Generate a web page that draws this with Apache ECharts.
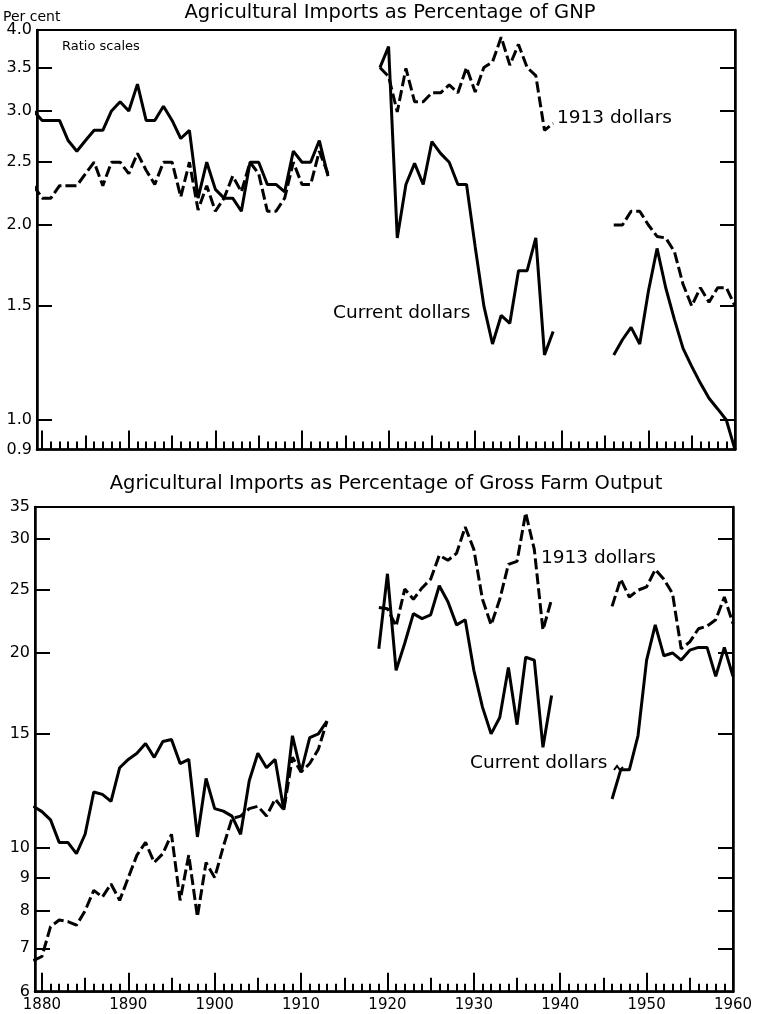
<!DOCTYPE html>
<html>
<head>
<meta charset="utf-8">
<script src="https://cdn.jsdelivr.net/npm/echarts@6/dist/echarts.min.js"></script>
<style>
  html, body { margin: 0; padding: 0; background: #fff; }
  #chart { width: 757px; height: 1014px; }
</style>
</head>
<body>
<div id="chart"></div>
<script>
// years 1879-1960; null = no data (1914-18, 1940-45)
const years = [];
for (let y = 1879; y <= 1960; y++) years.push(y);

// Agricultural imports as % of GNP
const gnpCurrent = [
  3.0, 2.9, 2.9, 2.9, 2.7, 2.6, 2.7, 2.8, 2.8, 3.0, 3.1, 3.0, 3.3, 2.9, 2.9, 3.05, 2.9, 2.72,
  2.8, 2.2, 2.5, 2.27, 2.2, 2.2, 2.1, 2.5, 2.5, 2.31, 2.31, 2.25, 2.6, 2.5, 2.5, 2.7, 2.38,
  null, null, null, null, null,
  3.5, 3.77, 1.91, 2.31, 2.49, 2.31, 2.69, 2.58, 2.5, 2.31, 2.31, 1.85, 1.5, 1.31, 1.45, 1.41,
  1.7, 1.7, 1.91, 1.26, 1.37,
  null, null, null, null, null, null,
  1.26, 1.33, 1.39, 1.31, 1.58, 1.84, 1.6, 1.43, 1.29, 1.21, 1.14, 1.08, 1.04, 1.0, 0.9
];
const gnp1913 = [
  2.3, 2.2, 2.2, 2.3, 2.3, 2.3, 2.4, 2.5, 2.3, 2.5, 2.5, 2.4, 2.58, 2.43, 2.31, 2.5, 2.5, 2.21,
  2.5, 2.11, 2.3, 2.1, 2.2, 2.38, 2.25, 2.5, 2.4, 2.1, 2.1, 2.2, 2.5, 2.31, 2.31, 2.6, 2.4,
  null, null, null, null, null,
  3.5, 3.39, 2.99, 3.49, 3.1, 3.1, 3.2, 3.2, 3.29, 3.2, 3.5, 3.21, 3.5, 3.57, 3.9, 3.53,
  3.8, 3.5, 3.4, 2.8, 2.87,
  null, null, null, null, null, null,
  2.0, 2.0, 2.1, 2.1, 2.0, 1.92, 1.91, 1.82, 1.62, 1.5, 1.6, 1.52, 1.6, 1.6, 1.5
];

// Agricultural imports as % of gross farm output
const farmCurrent = [
  11.6, 11.38, 11.05, 10.2, 10.2, 9.8, 10.5, 12.2, 12.1, 11.8, 13.3, 13.7, 14.0, 14.5, 13.8,
  14.6, 14.7, 13.5, 13.7, 10.4, 12.8, 11.5, 11.4, 11.2, 10.5, 12.7, 14.0, 13.3, 13.7, 11.45,
  14.9, 13.1, 14.8, 15.0, 15.7,
  null, null, null, null, null,
  20.3, 26.5, 18.8, 20.7, 23.0, 22.6, 22.9, 25.4, 24.0, 22.1, 22.5, 18.8, 16.5, 15.0, 15.9,
  19.0, 15.5, 19.7, 19.5, 14.3, 17.2,
  null, null, null, null, null, null,
  11.9, 13.2, 13.2, 14.9, 19.5, 22.1, 19.8, 20.0, 19.5, 20.2, 20.4, 20.4, 18.4, 20.4, 18.4
];
const farm1913 = [
  6.7, 6.8, 7.56, 7.74, 7.7, 7.6, 8.0, 8.6, 8.4, 8.8, 8.3, 9.0, 9.75, 10.2, 9.5, 9.8, 10.5,
  8.3, 9.75, 7.83, 9.5, 9.0, 10.05, 11.1, 11.2, 11.5, 11.6, 11.2, 11.9, 11.45, 13.8, 13.1,
  13.5, 14.2, 15.7,
  null, null, null, null, null,
  23.5, 23.4, 22.0, 25.1, 24.2, 25.2, 26.0, 28.3, 27.8, 28.5, 31.3, 28.9, 24.2, 22.1, 24.2,
  27.4, 27.7, 32.9, 28.9, 21.7, 24.2,
  null, null, null, null, null, null,
  23.6, 26.0, 24.4, 25.0, 25.3, 26.9, 26.0, 24.7, 20.3, 20.8, 21.8, 22.0, 22.5, 24.4, 22.2
];

// tick labels
const gnpTicks = [0.9, 1.0, 1.5, 2.0, 2.5, 3.0, 3.5, 4.0];
const farmTicks = [6, 7, 8, 9, 10, 15, 20, 25, 30];
const farmTopLabel = '35';
const decadeTicks = [1880, 1890, 1900, 1910, 1920, 1930, 1940, 1950, 1960];
const fiveTicks = [1885, 1895, 1905, 1915, 1925, 1935, 1945, 1955];
const yearTicks = years.filter(y => y >= 1880 && y % 5 !== 0);

const FONT = 'DejaVu Sans';
const BLACK = '#000';
const farmMax = 33.6;

const pairs = arr => years.map((y, i) => [y, arr[i]]);

function xAxesFor(g, min, showLabels) {
  const base = {
    type: 'value', gridIndex: g, min: min, max: 1960, position: 'bottom',
    splitLine: { show: false }
  };
  return [
    Object.assign({}, base, {
      axisLine: { show: true, lineStyle: { color: BLACK, width: 2.5 } },
      axisTick: { show: true, inside: true, length: 19, customValues: decadeTicks,
        lineStyle: { color: BLACK, width: 2 } },
      axisLabel: { show: showLabels, customValues: decadeTicks, color: BLACK,
        fontFamily: FONT, fontSize: 15, margin: 6, formatter: v => String(v) }
    }),
    Object.assign({}, base, {
      axisLine: { show: false },
      axisTick: { show: true, inside: true, length: 14, customValues: fiveTicks,
        lineStyle: { color: BLACK, width: 2 } },
      axisLabel: { show: false }
    }),
    Object.assign({}, base, {
      axisLine: { show: false },
      axisTick: { show: true, inside: true, length: 8, customValues: yearTicks,
        lineStyle: { color: BLACK, width: 2 } },
      axisLabel: { show: false }
    })
  ];
}

function yAxesFor(g, min, max, tickVals, labelVals, fmt) {
  const base = {
    type: 'log', logBase: 10, gridIndex: g, min: min, max: max,
    splitLine: { show: false },
    axisLine: { show: true, lineStyle: { color: BLACK, width: 2.5 } }
  };
  return [
    Object.assign({}, base, {
      position: 'left',
      axisTick: { show: true, inside: true, length: 15, customValues: tickVals,
        lineStyle: { color: BLACK, width: 2 } },
      axisLabel: { show: true, customValues: labelVals, color: BLACK, fontFamily: FONT,
        fontSize: 16, margin: 5, formatter: fmt }
    }),
    Object.assign({}, base, {
      position: 'right',
      axisTick: { show: true, inside: true, length: 15, customValues: tickVals,
        lineStyle: { color: BLACK, width: 2 } },
      axisLabel: { show: false }
    })
  ];
}

function line(name, arr, xi, yi, dashed) {
  return {
    name: name, type: 'line', xAxisIndex: xi, yAxisIndex: yi,
    data: pairs(arr), symbol: 'none', connectNulls: false, clip: true,
    lineStyle: { color: BLACK, width: 3, type: dashed ? [11, 4] : 'solid' },
    emphasis: { disabled: true }, silent: true
  };
}

function txt(text, x, y, size, align) {
  return {
    type: 'text', x: x, y: y, silent: true,
    style: { text: text, fill: BLACK, fontFamily: FONT, fontSize: size,
      align: align || 'left', verticalAlign: 'middle' }
  };
}

const chart = echarts.init(document.getElementById('chart'));
chart.setOption({
  animation: false,
  backgroundColor: '#fff',
  grid: [
    { left: 37, right: 22, top: 30, height: 419.6, show: true, borderColor: BLACK, borderWidth: 2 },
    { left: 35, right: 24, top: 507, height: 484.7, show: true, borderColor: BLACK, borderWidth: 2 }
  ],
  xAxis: [].concat(xAxesFor(0, 1879.4, false), xAxesFor(1, 1879.2, true)),
  yAxis: [].concat(
    yAxesFor(0, 0.9, 4.0, gnpTicks.slice(1, -1), gnpTicks, v => Number(v).toFixed(1)),
    yAxesFor(1, 6, farmMax, farmTicks.slice(1), farmTicks.concat([farmMax]),
      v => (v >= farmMax - 0.01 ? farmTopLabel : String(Math.round(v))))
  ),
  series: [
    line('Current dollars', gnpCurrent, 0, 0, false),
    line('1913 dollars', gnp1913, 0, 0, true),
    line('Current dollars', farmCurrent, 3, 2, false),
    line('1913 dollars', farm1913, 3, 2, true)
  ],
  graphic: [
    txt('Per cent', 3, 17, 14),
    txt('Agricultural Imports as Percentage of GNP', 390, 13, 19.5, 'center'),
    txt('Ratio scales', 62, 47, 13),
    txt('1913 dollars', 557, 118, 18.5),
    txt('Current dollars', 333, 313, 18.5),
    txt('Agricultural Imports as Percentage of Gross Farm Output', 386, 484, 19.5, 'center'),
    txt('1913 dollars', 541, 558, 18.5),
    txt('Current dollars', 470, 763, 18.5),
    {
      type: 'polyline', silent: true,
      shape: { points: [[614, 770], [617, 766], [620, 770], [623, 767]] },
      style: { stroke: BLACK, lineWidth: 2, fill: null }
    }
  ]
});
</script>
</body>
</html>
